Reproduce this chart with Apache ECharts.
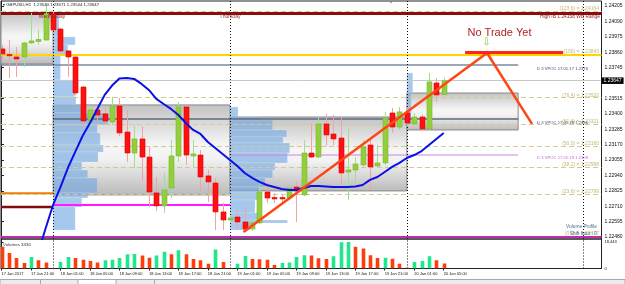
<!DOCTYPE html>
<html>
<head>
<meta charset="utf-8">
<script src="https://cdn.jsdelivr.net/npm/echarts@6.0.0/dist/echarts.min.js"></script>
<style>
html,body{margin:0;padding:0;background:#fff;overflow:hidden}
#chart{width:625px;height:284px}
</style>
</head>
<body>
<div id="chart"></div>
<script>
// ================= DATA =================
// hourly bars, index 0 = 17 Jan 2017 17:00 ... index 60 = 20 Jan 05:00
const timeTickIndex = [0,4,8,12,16,20,24,28,32,36,40,44,48,52,56,60];
const timeTickText = ['17 Jan 2017','17 Jan 21:00','18 Jan 01:00','18 Jan 05:00','18 Jan 09:00','18 Jan 13:00','18 Jan 17:00','18 Jan 21:00','19 Jan 01:00','19 Jan 05:00','19 Jan 09:00','19 Jan 13:00','19 Jan 17:00','19 Jan 21:00','20 Jan 01:00','20 Jan 05:00'];
const priceTicks = [1.22480,1.22595,1.22710,1.22825,1.22940,1.23055,1.23170,1.23285,1.23400,1.23515,1.23745,1.23860,1.23975,1.24090,1.24205];
const volumeTicks = [0, 18443];

const opens  = [1.23884,1.23843,1.23824,1.23824,1.23929,1.23940,1.23951,1.24145,1.24033,1.23869,1.23824,1.23600,1.23346,1.23428,1.23399,1.23339,1.23458,1.23264,1.23107,1.23212,1.23077,1.22809,1.22712,1.22846,1.23085,1.23451,1.23085,1.23092,1.22936,1.22883,1.22667,1.22607,1.22629,1.22592,1.22540,1.22585,1.22816,1.22775,1.22775,1.22771,1.22853,1.22794,1.23107,1.23077,1.23324,1.23249,1.23219,1.22965,1.22980,1.23018,1.23167,1.23010,1.23033,1.23406,1.23301,1.23406,1.23324,1.23376,1.23287,1.23630,1.23544];
const closes = [1.23847,1.23836,1.23809,1.23929,1.23944,1.23955,1.24149,1.24026,1.23869,1.23824,1.23555,1.23346,1.23428,1.23391,1.23346,1.23458,1.23257,1.23107,1.23212,1.23077,1.22816,1.22712,1.22831,1.23085,1.23451,1.23092,1.23100,1.22928,1.22891,1.22667,1.22607,1.22622,1.22592,1.22540,1.22585,1.22816,1.22771,1.22764,1.22764,1.22846,1.22824,1.23107,1.23077,1.23324,1.23242,1.23212,1.22958,1.22980,1.23025,1.23152,1.23003,1.23033,1.23369,1.23301,1.23414,1.23331,1.23376,1.23287,1.23638,1.23541,1.23647];
const lows   = [1.23802,1.23667,1.23675,1.23750,1.23921,1.23914,1.23944,1.24018,1.23854,1.23675,1.23541,1.23294,1.23324,1.23339,1.23324,1.23316,1.23234,1.23040,1.22995,1.22898,1.22704,1.22674,1.22659,1.22771,1.23040,1.23018,1.22995,1.22816,1.22741,1.22532,1.22532,1.22599,1.22532,1.22517,1.22525,1.22577,1.22734,1.22734,1.22734,1.22756,1.22592,1.22786,1.23070,1.23070,1.23160,1.23167,1.22876,1.22756,1.22883,1.23003,1.22831,1.22995,1.23018,1.23257,1.23279,1.23309,1.23316,1.23279,1.23279,1.23488,1.23544];
const highs  = [1.23914,1.23951,1.23899,1.23936,1.24153,1.24026,1.24228,1.24160,1.24041,1.23877,1.23832,1.23608,1.23458,1.23458,1.23451,1.23526,1.23518,1.23428,1.23316,1.23309,1.23152,1.22928,1.22958,1.23204,1.23488,1.23473,1.23204,1.23130,1.22980,1.22921,1.22734,1.22637,1.22682,1.22704,1.22622,1.22891,1.22891,1.22809,1.22794,1.22868,1.22891,1.23204,1.23331,1.23384,1.23399,1.23391,1.23376,1.23294,1.23077,1.23204,1.23204,1.23167,1.23414,1.23443,1.23451,1.23443,1.23406,1.23391,1.23705,1.23667,1.23671];
const volumes = [15110,10850,7310,3760,8020,5670,4260,400,4490,8020,7310,6150,5200,4260,5670,6150,7310,9930,10100,8980,7560,8980,11580,9930,12770,9930,6620,5670,3310,13240,4490,400,3310,8750,6620,6500,6150,2360,3900,4200,8020,9220,8980,7090,6620,8510,18200,18443,15130,13950,9220,7330,7560,6860,3310,500,4490,5200,8510,5670,3430];

// moving average (blue), starting at bar 5
const maStartIndex = 5;
const maValues = [1.22368,1.22547,1.22719,1.22853,1.22995,1.23115,1.23234,1.23331,1.23436,1.23541,1.23611,1.23664,1.23667,1.23660,1.23623,1.23578,1.23511,1.23473,1.23436,1.23391,1.23331,1.23279,1.23249,1.23189,1.23145,1.23100,1.23055,1.23010,1.22958,1.22921,1.22891,1.22868,1.22853,1.22838,1.22831,1.22831,1.22846,1.22861,1.22861,1.22857,1.22853,1.22853,1.22853,1.22857,1.22868,1.22906,1.22928,1.22965,1.23003,1.23033,1.23070,1.23092,1.23122,1.23167,1.23212,1.23257];

// day separators (bar index of 00:00)
const daySeparators = [7,31,55,79];

// value-area boxes: [fromBar, toBar, lowPrice, highPrice]
const valueAreas = [[-0.07,7,1.23772,1.24153],[7,31,1.22794,1.23466],[31,55,1.22824,1.23376],[55,70.1,1.23279,1.23555]];

// volume profiles: [startBar, highPrice, lowPrice, lengthInBars]
const profile18 = [[7,1.24138,1.23974,0.8],[7,1.23974,1.23914,3.0],[7,1.23914,1.23839,2.0],[7,1.23839,1.23653,1.0],[7,1.23653,1.23526,3.0],[7,1.23526,1.23466,3.1],[7,1.23466,1.23406,4.3],[7,1.23406,1.23316,7.5],[7,1.23316,1.23257,6.0],[7,1.23257,1.23167,6.4],[7,1.23167,1.23115,6.8],[7,1.23115,1.23040,6.1],[7,1.23040,1.22980,3.9],[7,1.22980,1.22921,4.7],[7,1.22921,1.22809,6.0],[7,1.22809,1.22771,4.7],[7,1.22771,1.22704,3.9],[7,1.22704,1.22532,3.0]];
const profile19 = [[31,1.23451,1.23376,1.1],[31,1.23376,1.23354,4.1],[31,1.23354,1.23279,5.8],[31,1.23279,1.23227,7.7],[31,1.23227,1.23182,7.2],[31,1.23182,1.23107,8.1],[31,1.23107,1.23033,7.8],[31,1.23033,1.22980,6.1],[31,1.22980,1.22921,5.8],[31,1.22921,1.22853,4.8],[31,1.22853,1.22816,4.1],[31,1.22816,1.22756,3.8],[31,1.22756,1.22659,3.4],[31,1.22659,1.22607,3.8],[31,1.22607,1.22585,7.8],[31,1.22585,1.22532,2.7]];
const profile20 = [[55,1.23705,1.23555,0.8],[55,1.23555,1.23316,0.6]];

// VPOC lines
const vpocPrices = [1.23765,1.23361,1.23092];
const vpocFrom = [-0.07,7,31];
const vpocTo = 70.1;

// other levels
const fibLevels = ['123.6','100','76.4','61.8','50.0','38.2','23.6','0.0'];
const fibPrices = [1.24164,1.23843,1.23520,1.23321,1.23160,1.22998,1.22799,1.22477];
const highIB = 1.24152;
const bottomLevel = 1.22480;
const orangeLevel = 1.22806, maroonLevel = 1.22704, magentaLevel = 1.22719;
const trendUp = [[32.84,1.22517],[65.88,1.23854]];
const trendDown = [[65.88,1.23854],[71.98,1.23324]];
const targetLine = [[62.9,1.23858],[76.2,1.23858]];

// ================= CHART =================
const FONT = '"Liberation Sans", Arial, sans-serif';
const N = opens.length;
const candleData = opens.map((o, i) => [i, o, closes[i], lows[i], highs[i]]);
const volumeData = volumes.map((v, i) => [i, v, (i > 0 && v > volumes[i-1]) ? 1 : 0]);
const maData = maValues.map((v, i) => [maStartIndex + i, v]);
const lastClose = closes[N-1];
const xMin = -0.068, xMax = 81.41;

function seg(pts, color, width, z, type) {
  return {type:'line', xAxisIndex:0, yAxisIndex:0, data:pts, symbol:'none', showSymbol:false, silent:true, z:z,
    lineStyle:{color:color, width:width, type:type||'solid'}, animation:false};
}
function T(x, y, text, size, color, align, family) {
  return {type:'text', x:x, y:y, z:100, silent:true,
    style:{text:text, fill:color, font: size + 'px ' + (family || FONT), align: align || 'left', verticalAlign:'middle'}};
}
const boxGrad = {type:'linear', x:0, y:0, x2:0, y2:1, colorStops:[
  {offset:0, color:'#c2c2c2'},{offset:0.45, color:'#f6f6f6'},{offset:0.6, color:'#f2f2f2'},{offset:1, color:'#bababa'}]};

const labelMap = {};
timeTickIndex.forEach((v, k) => labelMap[v] = timeTickText[k]);

const option = {
  animation:false,
  backgroundColor:'#ffffff',
  grid:[
    {left:1, right:23.5, top:1, height:238, show:true, borderColor:'#222', borderWidth:1, backgroundColor:'transparent', containLabel:false, outerBoundsMode:'none'},
    {left:1, right:23.5, top:239, height:29.5, show:true, borderColor:'#222', borderWidth:1, backgroundColor:'transparent', containLabel:false, outerBoundsMode:'none'}
  ],
  xAxis:[
    {type:'value', gridIndex:0, min:xMin, max:xMax, show:false},
    {type:'value', gridIndex:1, min:xMin, max:xMax,
      axisLine:{show:true, lineStyle:{color:'#222', width:1}},
      axisTick:{show:true, length:2, customValues:timeTickIndex, lineStyle:{color:'#222'}},
      axisLabel:{show:true, customValues:timeTickIndex, formatter:(v)=>labelMap[Math.round(v)]||'', fontSize:4, fontFamily:FONT, color:'#111', align:'left', margin:3},
      splitLine:{show:false}}
  ],
  yAxis:[
    {type:'value', gridIndex:0, position:'right', min:1.22465, max:1.24242,
      axisLine:{show:true, lineStyle:{color:'#222', width:1}},
      axisTick:{show:true, length:2.5, customValues:priceTicks, lineStyle:{color:'#222'}},
      axisLabel:{show:true, customValues:priceTicks, formatter:(v)=>v.toFixed(5), fontSize:5, fontFamily:FONT, color:'#111', margin:3},
      splitLine:{show:false}},
    {type:'value', gridIndex:1, position:'right', min:0, max:20530,
      axisLine:{show:true, lineStyle:{color:'#222', width:1}},
      axisTick:{show:true, length:2, customValues:volumeTicks, lineStyle:{color:'#222'}},
      axisLabel:{show:true, customValues:volumeTicks, fontSize:4, fontFamily:FONT, color:'#111', margin:3},
      splitLine:{show:false}}
  ],
  series:[
    // value area boxes
    {type:'custom', xAxisIndex:0, yAxisIndex:0, z:1, silent:true, clip:true, data:valueAreas, encode:{x:[0,1], y:[2,3]},
      renderItem:(params, api)=>{
        const a = api.coord([api.value(0), api.value(3)]);
        const b = api.coord([api.value(1), api.value(2)]);
        return {type:'rect', shape:{x:a[0], y:a[1], width:b[0]-a[0], height:b[1]-a[1]},
          style:{fill:boxGrad, stroke:'#8a8a8a', lineWidth:1}};
      }},
    // volume profiles
    {type:'custom', xAxisIndex:0, yAxisIndex:0, z:2, silent:true, clip:true, data:profile18.concat(profile19, profile20), encode:{x:0, y:[1,2]},
      renderItem:(params, api)=>{
        const s = api.value(0);
        const a = api.coord([s, api.value(1)]);
        const b = api.coord([s + api.value(3), api.value(2)]);
        return {type:'rect', shape:{x:a[0], y:a[1], width:b[0]-a[0], height:b[1]-a[1]},
          style:{fill:'rgba(112,166,226,0.62)', stroke:'rgba(255,255,255,0.35)', lineWidth:0.5}};
      }},
    // VPOC / level segments
    seg([[vpocFrom[0],vpocPrices[0]],[vpocTo,vpocPrices[0]]], '#7b8aa0', 1.5, 3),
    seg([[vpocFrom[1],vpocPrices[1]],[vpocTo,vpocPrices[1]]], '#5c6a80', 1.5, 3),
    seg([[vpocFrom[2],vpocPrices[2]],[vpocTo,vpocPrices[2]]], '#c986dc', 1, 3),
    seg([[xMin,orangeLevel],[7,orangeLevel]], '#ef7d00', 2, 3),
    seg([[xMin,maroonLevel],[7,maroonLevel]], '#7d0f0f', 2.5, 3),
    seg([[7,magentaLevel],[31,magentaLevel]], '#ff1aff', 2, 3),
    // full-width lines
    {type:'line', xAxisIndex:0, yAxisIndex:0, data:[], z:4, silent:true,
      markLine:{symbol:['none','none'], silent:true, animation:false, precision:6, label:{show:false},
        data:[
          {yAxis:fibPrices[0], lineStyle:{color:'#d3c994', width:1, type:[5,3]}},
          {yAxis:highIB, lineStyle:{color:'#8b0d0d', width:3, type:'solid'}},
          {yAxis:fibPrices[1], lineStyle:{color:'#ffd400', width:2, type:'solid'}},
          {yAxis:fibPrices[2], lineStyle:{color:'#d3c994', width:1, type:[5,3]}},
          {yAxis:fibPrices[3], lineStyle:{color:'#d3c994', width:1, type:[5,3]}},
          {yAxis:fibPrices[4], lineStyle:{color:'#d3c994', width:1, type:[5,3]}},
          {yAxis:fibPrices[5], lineStyle:{color:'#d3c994', width:1, type:[5,3]}},
          {yAxis:fibPrices[6], lineStyle:{color:'#d3c994', width:1, type:[5,3]}},
          {yAxis:bottomLevel, lineStyle:{color:'#c02cae', width:2, type:'solid'}},
          {yAxis:lastClose, lineStyle:{color:'#c8c8c8', width:1, type:'solid'},
            label:{show:true, position:'end', distance:0, formatter:lastClose.toFixed(5), color:'#fff', backgroundColor:'#000',
              fontSize:5, fontFamily:FONT, padding:[1,2,0.5,2]}}
        ]}},
    // day separators (main)
    {type:'line', xAxisIndex:0, yAxisIndex:0, data:[], z:4, silent:true,
      markLine:{symbol:['none','none'], silent:true, animation:false, precision:6, label:{show:false},
        lineStyle:{color:'#111', width:1, type:[1,2]},
        data:daySeparators.map(v=>({xAxis:v}))}},
    // candles
    {type:'custom', xAxisIndex:0, yAxisIndex:0, z:5, silent:true, clip:true, data:candleData, encode:{x:0, y:[1,2,3,4]},
      renderItem:(params, api)=>{
        const i = api.value(0), o = api.value(1), c = api.value(2), l = api.value(3), h = api.value(4);
        const up = c >= o;
        const pH = api.coord([i,h]), pL = api.coord([i,l]), pO = api.coord([i,o]), pC = api.coord([i,c]);
        const x = Math.round(pH[0]) + 0.5;
        const w = 5;
        const top = Math.min(pO[1], pC[1]);
        const bot = Math.max(pO[1], pC[1]);
        return {type:'group', children:[
          {type:'line', shape:{x1:x, y1:pH[1], x2:x, y2:pL[1]}, style:{stroke: up ? '#9fe08f' : '#f2a2a2', lineWidth:1}},
          {type:'rect', shape:{x:x-w/2, y:top, width:w, height:Math.max(bot-top, 1.3)},
            style:{fill: up ? '#93cf3c' : '#ff1111', stroke: up ? '#78b52a' : '#e00000', lineWidth:0.6}}
        ]};
      }},
    // moving average
    {type:'line', xAxisIndex:0, yAxisIndex:0, z:6, silent:true, data:maData, symbol:'none', showSymbol:false, smooth:false,
      lineStyle:{color:'#0b10e6', width:2}},
    // trend lines
    seg(trendUp, '#ff4614', 2.5, 7),
    seg(trendDown, '#ff4614', 2.5, 7),
    seg(targetLine, '#ff2418', 3, 7),
    // volumes
    {type:'custom', xAxisIndex:1, yAxisIndex:1, z:5, silent:true, clip:true, data:volumeData, encode:{x:0, y:1},
      renderItem:(params, api)=>{
        const i = api.value(0), v = api.value(1), g = api.value(2);
        const p0 = api.coord([i,0]), p1 = api.coord([i,v]);
        const x = Math.round(p0[0]) + 0.5;
        return {type:'rect', shape:{x:x-1.8, y:p1[1], width:3.6, height:p0[1]-p1[1]},
          style:{fill: g ? '#1fe88c' : '#ff3c0c'}};
      }},
    // day separators (volume)
    {type:'line', xAxisIndex:1, yAxisIndex:1, data:[], z:4, silent:true,
      markLine:{symbol:['none','none'], silent:true, animation:false, precision:6, label:{show:false},
        lineStyle:{color:'#111', width:1, type:[1,2]},
        data:daySeparators.map(v=>({xAxis:v}))}}
  ],
  graphic:[
    {type:'rect', z:90, silent:true, shape:{x:0, y:279.5, width:625, height:5}, style:{fill:'#ececec', stroke:'#a8a8a8', lineWidth:1}},
    {type:'rect', z:91, silent:true, shape:{x:78, y:279.5, width:38, height:5}, style:{fill:'#ffffff', stroke:'#a8a8a8', lineWidth:1}},
    {type:'line', z:91, silent:true, shape:{x1:40.5, y1:280, x2:40.5, y2:284}, style:{stroke:'#a8a8a8', lineWidth:1}},
    {type:'line', z:91, silent:true, shape:{x1:154.5, y1:280, x2:154.5, y2:284}, style:{stroke:'#a8a8a8', lineWidth:1}},
    {type:'polygon', z:91, silent:true, shape:{points:[[389,1],[393,1],[391,3.5]]}, style:{fill:'#8a8a8a'}},
    T(3, 4.6, '\u25BE GBPUSD,H1  1.23544 1.23671 1.23544 1.23647', 4.3, '#222', 'left'),
    T(52, 16.8, 'Wednesday', 5, '#8b2e2e', 'center'),
    T(230, 16.8, 'Thursday', 5, '#8b2e2e', 'center'),
    T(600, 16.2, 'High IB 1.24158 WB Range', 4.9, '#8b1a1a', 'right'),
    T(599, 8.5, '(' + fibLevels[0] + ') = ' + fibPrices[0].toFixed(5), 5, '#c6b874', 'right'),
    T(599, 52, '(' + fibLevels[1] + ') = ' + fibPrices[1].toFixed(5), 5, '#c6b874', 'right'),
    T(599, 95.5, '(' + fibLevels[2] + ') = ' + fibPrices[2].toFixed(5), 5, '#c6b874', 'right'),
    T(599, 121.5, '(' + fibLevels[3] + ') = ' + fibPrices[3].toFixed(5), 5, '#c6b874', 'right'),
    T(599, 143.5, '(' + fibLevels[4] + ') = ' + fibPrices[4].toFixed(5), 5, '#c6b874', 'right'),
    T(599, 164.5, '(' + fibLevels[5] + ') = ' + fibPrices[5].toFixed(5), 5, '#c6b874', 'right'),
    T(599, 192, '(' + fibLevels[6] + ') = ' + fibPrices[6].toFixed(5), 5, '#c6b874', 'right'),
    T(599, 234, '(' + fibLevels[7] + ') = ' + fibPrices[7].toFixed(5), 5, '#c6b874', 'right'),
    T(537, 69, 'D 3 VPOC 17.01.17 ' + vpocPrices[0].toFixed(4), 4.2, '#3d4d70', 'left'),
    T(537, 122.5, 'D 3 VPOC 17.01.18 ' + vpocPrices[1].toFixed(4), 4.2, '#3d4d70', 'left'),
    T(537, 158, 'D 3 VPOC 17.01.19 ' + vpocPrices[2].toFixed(4), 4.2, '#c46ad6', 'left'),
    T(597, 227, 'Volume Profile', 4.8, '#4f6d8f', 'right'),
    T(597, 233.5, 'Shift hour : 0', 4.8, '#4f6d8f', 'right'),
    T(3, 244.5, 'Volumes ' + volumes[N-1], 4.4, '#333', 'left'),
    T(499.5, 33, 'No Trade Yet', 11, '#b22222', 'center'),
    T(486.5, 42.5, '\u21E9', 10, '#93bf35', 'center', '"DejaVu Sans", sans-serif')
  ]
};

const chart = echarts.init(document.getElementById('chart'), null, {renderer:'canvas', width:625, height:284});
chart.setOption(option);
</script>
</body>
</html>
